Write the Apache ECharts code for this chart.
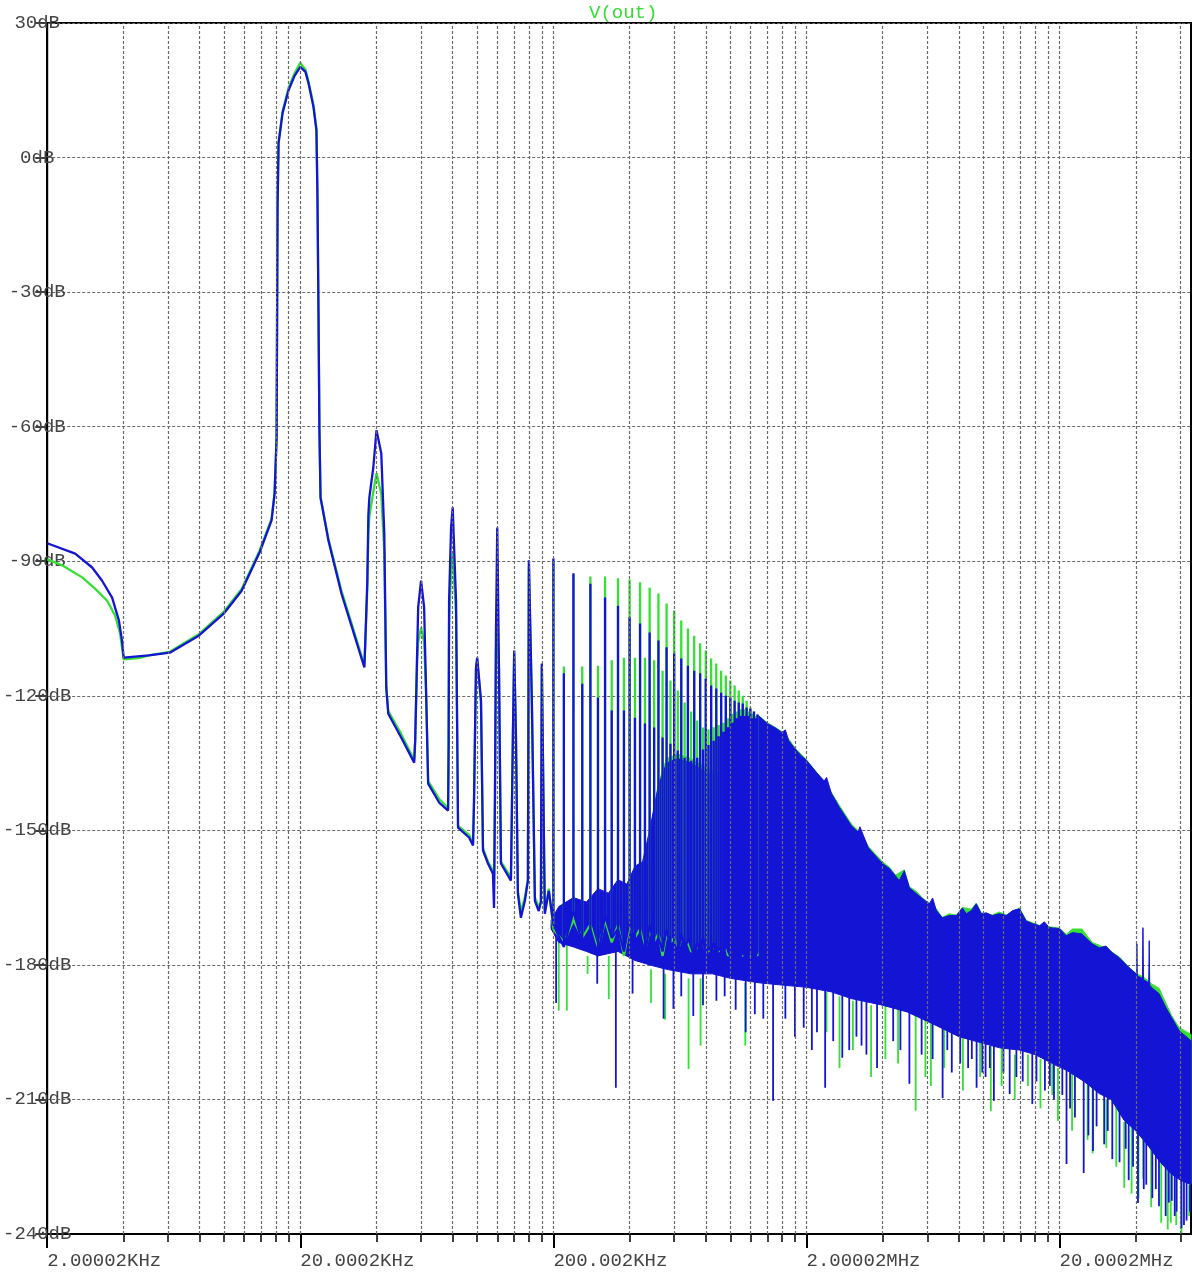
<!DOCTYPE html>
<html><head><meta charset="utf-8">
<script src="https://cdn.jsdelivr.net/npm/echarts@6/dist/echarts.min.js"></script>
<style>html,body{margin:0;padding:0;background:#fff}#c{width:1192px;height:1283px}</style>
</head><body><div id="c"></div>
<script>
// ---------- DATA (frequency in kHz, level in dB) ----------
const xMajorHz = [2e3, 2e4, 2e5, 2e6, 2e7];
const xMajorLabels = ['2.00002KHz', '20.0002KHz', '200.002KHz', '2.00002MHz', '20.0002MHz'];
const yUnit = 'dB';

// smooth part of the spectrum, 2 kHz .. 192 kHz
const blueLow = [[2.0,-86.0],[2.58,-88.3],[3.01,-91.4],[3.29,-94.3],[3.61,-98.1],[3.84,-103.2],[3.95,-107.7],[4.01,-111.5],[5.04,-111.0],[6.10,-110.4],[7.94,-106.6],[9.96,-101.7],[11.73,-96.6],[13.82,-88.0],[15.4,-80.9],[15.83,-74.9],[16.12,-62.4],[16.19,-36.9],[16.26,-11.1],[16.41,3.2],[17.02,9.9],[17.97,15.0],[18.98,18.2],[20.0,20.2],[20.96,19.1],[21.54,16.6],[22.54,11.3],[23.16,6.1],[23.38,-8.8],[23.60,-34.7],[23.80,-60.8],[24.04,-75.8],[25.83,-85.4],[29.08,-97.2],[31.82,-104.3],[35.82,-113.7],[36.14,-107.7],[36.80,-94.3],[37.14,-79.8],[37.48,-75.8],[38.86,-69.1],[40.0,-60.8],[41.78,-66.0],[42.94,-83.8],[43.72,-118.2],[44.52,-124.0],[50.08,-129.3],[56.36,-134.9],[56.88,-130.0],[57.92,-109.9],[58.44,-100.3],[60.0,-94.3],[61.70,-100.3],[62.84,-119.5],[64.0,-139.6],[70.74,-143.8],[76.72,-145.6],[77.10,-130.7],[77.42,-98.8],[78.84,-82.5],[80.0,-78.0],[82.48,-98.8],[84.0,-149.4],[92.84,-151.6],[96.26,-153.4],[97.14,-143.4],[98.9,-113.7],[100.0,-111.5],[103.5,-121.1],[105.4,-154.5],[110.3,-157.4],[115.4,-159.7],[116.5,-167.3],[117.5,-143.4],[118.6,-106.1],[120.0,-82.5],[121.9,-113.7],[124.1,-157.4],[135.9,-161.2],[138.4,-128.4],[140.0,-109.9],[142.2,-128.4],[144.8,-164.1],[148.8,-169.5],[154.3,-165.7],[158.6,-161.2],[160.0,-89.8],[164.4,-121.1],[169.0,-165.7],[175.0,-168.0],[178.5,-166.0],[180.0,-112.8],[185.0,-168.6],[191.8,-163.5]];
const greenLow = [[2.0,-89.6],[2.29,-90.9],[2.75,-93.6],[3.09,-96.1],[3.45,-98.8],[3.71,-102.1],[3.88,-106.1],[4.01,-111.9],[4.6,-111.6],[5.04,-111.0],[6.10,-110.2],[7.94,-106.3],[9.96,-101.3],[11.73,-96.2],[13.82,-87.6],[15.4,-80.5],[15.83,-74.7],[16.12,-62.4],[16.19,-36.9],[16.26,-11.1],[16.41,3.4],[17.02,10.3],[17.97,15.5],[18.98,18.8],[20.0,21.1],[20.96,19.6],[21.54,17.0],[22.54,11.8],[23.16,6.5],[23.38,-8.8],[23.60,-34.7],[23.80,-60.8],[24.04,-75.8],[25.83,-85.0],[29.08,-96.6],[31.82,-103.7],[35.82,-113.2],[36.14,-108.0],[36.80,-96.0],[37.14,-84.0],[37.48,-80.0],[38.86,-74.5],[40.0,-70.4],[41.78,-75.0],[42.94,-88.0],[43.72,-118.2],[44.52,-123.4],[50.08,-128.5],[56.36,-134.3],[56.88,-130.0],[57.92,-112.0],[58.44,-108.0],[60.0,-104.8],[61.70,-108.0],[62.84,-120.0],[64.0,-139.0],[70.74,-143.0],[76.72,-145.0],[77.10,-131.0],[77.42,-104.0],[78.84,-92.0],[80.0,-88.3],[82.48,-102.0],[84.0,-149.0],[92.84,-151.0],[96.26,-153.0],[97.14,-143.4],[98.9,-114.0],[100.0,-112.0],[103.5,-121.5],[105.4,-154.0],[110.3,-157.0],[115.4,-159.0],[116.5,-162.0],[117.5,-143.0],[118.6,-110.0],[120.0,-105.4],[121.9,-114.0],[124.1,-157.0],[135.9,-160.5],[138.4,-128.4],[140.0,-110.5],[142.2,-128.4],[144.8,-163.5],[148.8,-168.0],[154.3,-165.0],[158.6,-161.0],[160.0,-91.0],[164.4,-121.5],[169.0,-165.0],[175.0,-167.0],[178.5,-166.0],[180.0,-113.5],[185.0,-168.0],[191.8,-163.0]];

// harmonic lines, 200 kHz .. 1.28 MHz
const harmonicKHz = [200,220,240,260,280,300,320,340,360,380,400,420,440,460,480,500,520,540,560,580,600,620,640,660,680,700,720,740,760,780,800,820,840,860,880,900,920,940,960,980,1000,1020,1040,1060,1080,1100,1120,1140,1160,1180,1200,1220,1240,1260,1280];
const bluePeak = [-89.4,-115.0,-92.7,-117.3,-95.0,-120.4,-98.1,-123.3,-99.9,-123.3,-102.5,-124.9,-103.9,-126.2,-105.9,-127.1,-107.7,-129.3,-109.2,-130.7,-110.6,-132.2,-111.7,-133.8,-113.3,-134.5,-114.4,-133.8,-115.0,-132.0,-116.2,-131.0,-117.7,-130.0,-118.4,-129.0,-119.3,-128.0,-120.0,-127.0,-120.4,-126.0,-121.1,-125.0,-121.5,-124.5,-121.7,-124.5,-122.6,-124.5,-122.9,-125.0,-123.5,-125.0,-124.2];
const greenPeak = [-90.0,-113.5,-93.0,-113.5,-93.4,-113.3,-93.4,-112.1,-93.8,-111.5,-94.1,-111.5,-94.7,-111.5,-95.9,-112.1,-97.2,-114.4,-99.4,-116.6,-101.0,-118.8,-103.2,-121.5,-105.0,-123.5,-106.6,-125.5,-108.3,-127.1,-109.9,-127.5,-111.7,-127.0,-112.8,-126.5,-114.4,-126.0,-115.5,-125.0,-116.6,-124.0,-117.7,-123.5,-118.8,-123.0,-120.0,-123.0,-121.1,-123.5,-122.6,-124.0,-123.5,-124.5,-124.2];
const blueFloor = [-171,-176,-168,-175,-172,-178,-169,-174,-172,-177,-170,-175,-173,-178,-171,-176,-174,-177,-172,-176,-175,-178,-173,-177,-174,-176,-178,-175,-177,-174,-178,-176,-177,-175,-178,-176,-177,-178,-175,-177,-178,-176,-178,-177,-175,-178,-177,-178,-176,-178,-177,-178,-176,-178,-177];
const greenFloor = [-172,-175,-170,-174,-171,-177,-170,-175,-171,-178,-171,-174,-172,-177,-172,-175,-173,-178,-173,-175,-174,-177,-174,-176,-175,-177,-177,-176,-176,-175,-177,-177,-176,-176,-177,-177,-176,-177,-176,-178,-177,-177,-177,-176,-176,-177,-178,-177,-177,-177,-178,-177,-177,-177,-178];

// dense noise band: upper and lower envelopes
const blueBandTop = [[196,-170],[210,-167],[240,-165],[270,-166],[300,-163],[330,-164],[360,-161],[390,-162],[420,-158],[450,-157],[480,-150],[520,-140],[560,-135],[620,-134],[700,-135],[800,-137],[900,-138],[1000,-139],[1100,-140],[1200,-141],[1270,-141.5],[1285,-124.3],[1400,-126.2],[1500,-127.1],[1600,-128.2],[1650,-127.6],[1700,-130.0],[1800,-131.8],[1900,-133.3],[2000,-134.4],[2190,-137.1],[2350,-139.0],[2400,-138.2],[2510,-141.8],[2700,-144.9],[3010,-149.0],[3200,-150.4],[3250,-149.2],[3510,-153.9],[3990,-157.4],[4250,-158.5],[4490,-160.1],[4650,-161.2],[4870,-159.0],[5100,-162.8],[5430,-164.1],[5740,-165.2],[6110,-166.4],[6300,-165.1],[6520,-167.9],[6880,-169.5],[7330,-169.0],[7820,-169.0],[8260,-167.3],[8560,-168.6],[8960,-167.9],[9370,-166.4],[9810,-168.6],[10260,-168.4],[10840,-169.0],[11560,-168.6],[12310,-169.0],[13040,-167.9],[13880,-167.5],[14760,-170.2],[15640,-170.8],[16660,-171.3],[17400,-170.4],[18240,-171.7],[19960,-171.9],[21240,-173.5],[22500,-172.8],[24500,-173.1],[26900,-175.3],[28700,-176.2],[30500,-175.8],[32300,-177.3],[34400,-178.4],[37600,-180.6],[40100,-182.0],[40300,-182.3],[40400,-175.3],[40550,-182.5],[42500,-183.0],[42700,-171.7],[42900,-183.3],[45000,-184.0],[45200,-174.6],[45400,-184.5],[46300,-185.1],[49400,-186.4],[52700,-189.6],[55500,-191.8],[59400,-194.7],[66100,-196.9]];
const blueBandBottom = [[196,-172],[210,-175],[240,-176],[270,-177],[300,-178],[360,-177],[420,-179],[480,-180],[560,-181],[700,-182],[850,-182],[1000,-183],[1300,-184],[1600,-184.5],[2000,-185],[2500,-186],[3000,-187.5],[4000,-189],[5000,-190.5],[6500,-193.5],[8000,-196],[11600,-198.5],[13900,-199],[16000,-200],[19500,-202.5],[21300,-203.5],[25000,-206],[28700,-208.7],[32000,-210],[36000,-214.7],[40000,-217],[45000,-220.5],[50000,-224],[55000,-226.5],[60000,-228],[66100,-229]];
const greenBandTop = [[196,-171],[210,-168],[240,-166],[270,-167],[300,-164],[330,-165],[360,-162],[390,-163],[420,-159],[450,-158],[480,-151],[520,-139.5],[560,-134],[620,-133],[700,-134],[800,-136],[900,-137],[1000,-138],[1100,-139],[1200,-140],[1270,-141],[1285,-124.3],[1400,-126.0],[1500,-127.0],[1600,-128.0],[1700,-129.6],[1800,-131.6],[1900,-133.0],[2000,-134.3],[2190,-137.0],[2510,-141.6],[2700,-144.5],[3010,-148.6],[3300,-150.8],[3510,-153.6],[3990,-157.0],[4250,-158.2],[4490,-160.0],[4870,-158.8],[5100,-162.6],[5430,-163.6],[5740,-165.1],[6110,-166.2],[6520,-167.5],[6880,-169.4],[7330,-168.6],[7820,-168.9],[8260,-167.2],[8960,-167.6],[9370,-166.2],[9810,-168.4],[10840,-168.9],[11560,-168.2],[12310,-168.9],[13880,-167.3],[14760,-170.1],[16660,-171.2],[18240,-171.5],[19960,-171.8],[21240,-173.2],[22500,-172.0],[24500,-172.0],[26900,-175.0],[28700,-175.6],[32300,-177.2],[34400,-178.2],[37600,-180.5],[40100,-181.9],[42500,-182.6],[45000,-183.6],[46300,-184.3],[49400,-185.2],[52700,-188.6],[55500,-191.4],[59400,-194.0],[66100,-195.5]];
const greenBandBottom = [[196,-171.8],[210,-174.8],[240,-175.8],[270,-176.8],[300,-177.8],[360,-176.8],[420,-178.8],[480,-179.8],[560,-180.8],[700,-181.8],[850,-181.8],[1000,-182.8],[1300,-183.8],[1600,-184.3],[2000,-184.8],[2500,-185.8],[3000,-187.3],[4000,-188.8],[5000,-190.3],[6500,-193.3],[8000,-195.8],[11600,-198.3],[13900,-198.8],[16000,-199.8],[19500,-202.3],[21300,-203.3],[25000,-205.8],[28700,-208.5],[32000,-209.8],[36000,-214.5],[40000,-216.8],[45000,-220.3],[50000,-223.8],[55000,-226.3],[60000,-227.8],[66100,-228.8]];

// isolated downward spikes: [kHz, from dB, to dB]
const blueDips = [[205,-172,-188.5],[298,-177,-184.2],[353,-176,-207.4],[411,-178,-186.4],[545,-180,-192.0],[596,-180,-189.8],[640,-181,-187],[714,-181,-191.4],[780,-181,-189],[881,-181,-188],[950,-182,-187],[1050,-183,-190],[1150,-182,-195],[1250,-183,-191],[1350,-184,-192],[1476,-183,-210.3],[1650,-184,-192],[1800,-184,-196],[1950,-185,-194],[2100,-185,-199],[2200,-185,-195],[2370,-185,-207.4],[2550,-186,-197],[2770,-186,-200.7],[2950,-187,-199],[3150,-187,-196],[3300,-187,-198],[3450,-188,-200],[3800,-188,-203],[4400,-189,-197],[4700,-190,-199],[5100,-189,-206.5],[5700,-192,-200],[6300,-193,-201],[6900,-193,-209.7],[7200,-194,-199],[7500,-194,-204],[8100,-196,-202],[8700,-196,-203],[9000,-196,-201],[9400,-196,-207.4],[9900,-197,-204],[10200,-197,-205],[10600,-198,-203],[11000,-197,-210.3],[12000,-198,-204],[12700,-198,-208.8],[13500,-199,-205],[14300,-199,-206],[15600,-199,-211.0],[16200,-200,-206],[17500,-200,-208],[18300,-201,-207],[19000,-201,-210],[20500,-203,-209],[21300,-203,-224.4],[22000,-204,-212],[23000,-204,-214],[24900,-205,-226.4],[26000,-206,-218],[27100,-207,-221.5],[28000,-208,-216],[30000,-208,-220],[31000,-209,-217],[32300,-209,-223.3],[34500,-211,-224],[36500,-214,-221],[37500,-214,-228],[39000,-215,-225],[40800,-216,-233.1],[43000,-218,-230],[44000,-219,-229],[46500,-220,-232],[48000,-221,-230],[49400,-222,-233.8],[52500,-224,-236],[54000,-225,-233],[55500,-225,-232.6],[57000,-226,-236],[58000,-226,-235],[60600,-227,-238.7],[62000,-228,-238],[63500,-228,-237],[65500,-229,-235]];
const greenDips = [[210,-174,-190.2],[226,-174,-190.2],[273,-178,-182],[331,-178,-187.6],[486,-181,-188.5],[553,-182,-192.2],[684,-183,-203.2],[763,-183,-198],[1146,-184,-198],[2400,-186,-195],[2700,-187,-203],[3050,-188,-199],[3600,-189,-205],[4100,-189,-201],[4600,-190,-202],[5400,-191,-212.5],[5900,-192,-205],[6200,-193,-207],[7000,-194,-203],[8300,-196,-208],[9700,-197,-205],[10700,-198,-212.6],[11800,-198,-207],[13300,-200,-210],[15000,-200,-207],[16800,-201,-212],[18700,-202,-209],[19700,-203,-214.8],[22400,-204,-217],[25800,-206,-219],[27000,-207,-222],[30600,-210,-220.8],[33500,-211,-225],[36000,-215,-229.7],[38500,-216,-231],[41000,-217,-232],[42800,-219,-227.7],[46000,-221,-234],[50400,-224,-237.5],[53500,-225,-239],[55000,-226,-237.5],[57800,-227,-238],[60600,-228,-239.8],[65000,-229,-236]];

// ---------- BUILD ----------
const BLUE = '#1414d4', GREEN = '#33e033';
const hz = p => [p[0] * 1000, p[1]];
function tracePath(low, peaks, floors) {
  const pts = low.map(hz);
  harmonicKHz.forEach((k, i) => {
    pts.push([k * 1000, floors[i]], [k * 1000, peaks[i]], [k * 1000, floors[i]]);
  });
  return pts;
}
function bandPoly(top, bottom) {
  return top.map(hz).concat(bottom.slice().reverse().map(hz));
}
const xMin = 2000, xMax = 66100000;
const xGrid = [];
[2e3, 2e4, 2e5, 2e6, 2e7].forEach(d => { for (let m = 2; m <= 9; m++) { const v = m * d; if (v < xMax) xGrid.push(v); } });

function bandSeries(name, poly, color) {
  return {
    type: 'custom', name, xAxisIndex: 0, yAxisIndex: 0, data: poly,
    encode: { x: 0, y: 1 }, silent: true,
    renderItem: (params, api) => {
      if (params.dataIndex !== 0) return null;
      const pts = poly.map(p => api.coord(p));
      return { type: 'polygon', shape: { points: pts }, style: { fill: color, stroke: color, lineWidth: 1 } };
    }
  };
}
function dipSeries(name, dips, color) {
  return {
    type: 'custom', name, xAxisIndex: 0, yAxisIndex: 0,
    data: dips.map(d => [d[0] * 1000, d[1], d[2]]),
    encode: { x: 0, y: [1, 2] }, silent: true,
    renderItem: (params, api) => {
      const a = api.coord([api.value(0), api.value(1)]);
      const b = api.coord([api.value(0), api.value(2)]);
      return { type: 'line', shape: { x1: a[0], y1: a[1], x2: b[0], y2: b[1] }, style: { stroke: color, lineWidth: 1.8 } };
    }
  };
}
function lineSeries(name, data, color) {
  return { type: 'line', name, data, showSymbol: false, symbol: 'none', lineStyle: { color, width: 2.3 }, itemStyle: { color }, silent: true, animation: false };
}

const font = 'Liberation Mono, DejaVu Sans Mono, monospace';
const chart = echarts.init(document.getElementById('c'), null, { renderer: 'canvas' });
const majorLabelOf = v => { for (let i = 0; i < xMajorHz.length; i++) if (Math.abs(Math.log10(v / xMajorHz[i])) < 0.01) return xMajorLabels[i]; return ''; };

chart.setOption({
  animation: false,
  backgroundColor: '#fff',
  title: { text: 'V(out)', left: 584, top: -2, textStyle: { fontFamily: font, fontSize: 19, fontWeight: 'normal', color: GREEN } },
  grid: { left: 45, right: 1, top: 23, bottom: 49, show: true, borderColor: '#000', borderWidth: 2, backgroundColor: 'transparent' },
  xAxis: [
    { type: 'log', logBase: 10, min: xMin, max: xMax, position: 'bottom', offset: 0,
      axisLine: { show: true, onZero: false, lineStyle: { color: '#000', width: 2 } },
      axisTick: { show: true, length: 8, inside: false, customValues: xGrid, lineStyle: { color: '#000', width: 1.5 } },
      axisLabel: { show: false }, splitLine: { show: false }, minorTick: { show: false }, minorSplitLine: { show: false } },
    { type: 'log', logBase: 10, min: xMin, max: xMax, position: 'bottom', offset: 0,
      axisLine: { show: false, onZero: false },
      axisTick: { show: true, length: 14, inside: false, customValues: xMajorHz, lineStyle: { color: '#000', width: 2 } },
      axisLabel: { show: true, customValues: xMajorHz, formatter: v => majorLabelOf(v), align: 'left', margin: 17,
        fontFamily: font, fontSize: 19, color: '#444' },
      splitLine: { show: false } }
  ],
  yAxis: {
    type: 'value', min: -240, max: 30, interval: 30,
    axisLine: { show: true, lineStyle: { color: '#000', width: 2 } },
    axisTick: { show: true, length: 12, inside: false, lineStyle: { color: '#000', width: 1.5 } },
    axisLabel: { formatter: v => v + yUnit, align: 'center', margin: 10, fontFamily: font, fontSize: 19, color: '#444',
      verticalAlign: 'middle', padding: [5, 0, 0, 0] },
    splitLine: { show: true, lineStyle: { color: '#6a6a6a', width: 1.2, type: [3, 2] } }
  },
  series: [
    { type: 'line', name: 'grid', data: [], silent: true, xAxisIndex: 0,
      markLine: { silent: true, symbol: 'none', animation: false, label: { show: false },
        lineStyle: { color: '#6a6a6a', width: 1.2, type: [3, 2] },
        data: xGrid.concat(xMajorHz.slice(1)).map(v => ({ xAxis: v })) } },
    bandSeries('green band', bandPoly(greenBandTop, greenBandBottom), GREEN),
    lineSeries('V(out) green', tracePath(greenLow, greenPeak, greenFloor), GREEN),
    dipSeries('green dips', greenDips, GREEN),
    bandSeries('blue band', bandPoly(blueBandTop, blueBandBottom), BLUE),
    lineSeries('V(out) blue', tracePath(blueLow, bluePeak, blueFloor), BLUE),
    dipSeries('blue dips', blueDips, BLUE)
  ]
});
</script></body></html>
